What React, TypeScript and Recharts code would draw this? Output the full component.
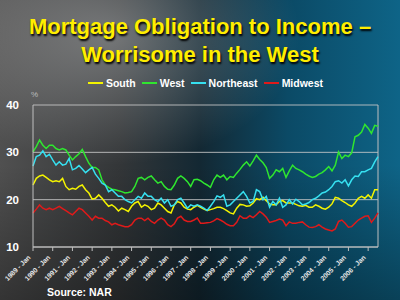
import { CartesianGrid, Legend, Line, LineChart, ReferenceLine, XAxis, YAxis } from "recharts";

// Bi-monthly readings, Jan 1989 .. Jul 2006 (percent of income)
const YEARS = [
  1989, 1990, 1991, 1992, 1993, 1994, 1995, 1996, 1997, 1998, 1999, 2000, 2001,
  2002, 2003, 2004, 2005, 2006,
];
const MONTHS = ["Jan", "Mar", "May", "Jul", "Sep", "Nov"];

const SOUTH = [
  23.1, 24.5, 25.0, 25.2, 24.7, 24.2, 23.8, 24.0, 23.8, 24.5,
  22.8, 22.1, 22.4, 22.2, 22.8, 23.1, 22.1, 21.4, 20.1, 20.3,
  21.0, 20.3, 19.4, 18.6, 18.9, 18.4, 17.6, 18.2, 17.9, 17.5,
  18.6, 19.3, 19.6, 18.4, 18.9, 18.6, 17.9, 18.2, 19.3, 18.9,
  18.2, 17.5, 17.2, 18.9, 19.6, 19.3, 18.4, 18.0, 17.9, 18.4,
  18.8, 18.4, 18.0, 17.7, 17.9, 18.1, 18.4, 18.4, 18.1, 17.7,
  17.2, 17.0, 18.2, 19.0, 18.9, 18.6, 18.7, 19.3, 20.2, 20.0,
  20.5, 19.8, 19.1, 18.9, 18.9, 19.6, 19.8, 19.3, 19.3, 19.3,
  19.0, 18.7, 18.6, 18.8, 18.4, 18.4, 18.9, 18.6, 18.2, 18.0,
  18.4, 19.1, 20.5, 20.3, 19.8, 19.4, 18.9, 18.6, 19.3, 20.3,
  20.7, 20.3, 21.0, 20.3, 22.1, 22.1,
];

const WEST = [
  30.1, 31.2, 32.6, 31.5, 30.8, 31.5, 31.5, 30.8, 30.5, 30.8,
  30.5, 29.4, 28.4, 29.1, 29.7, 30.6, 29.1, 27.7, 26.8, 26.8,
  26.3, 24.2, 23.1, 22.6, 22.2, 22.1, 21.9, 21.7, 21.4, 21.5,
  21.7, 22.8, 24.5, 24.7, 24.2, 24.7, 25.0, 24.2, 23.5, 23.8,
  22.8, 22.2, 22.1, 23.1, 24.5, 25.0, 24.5, 23.8, 22.8, 24.2,
  24.3, 24.0, 23.5, 23.1, 22.6, 24.2, 25.2, 24.7, 25.2, 24.2,
  24.9, 24.7, 25.6, 26.4, 27.3, 28.0, 27.1, 28.2, 29.4, 28.5,
  27.8, 26.8, 24.5, 25.2, 26.3, 25.9, 26.6, 24.7, 26.1, 27.3,
  26.6, 26.3, 25.9, 25.4, 25.0, 24.7, 24.9, 25.4, 25.7, 26.3,
  27.0, 26.1, 27.3, 30.1, 28.7, 29.4, 29.1, 29.9, 33.3, 33.6,
  34.3, 35.9, 35.1, 34.0, 35.7, 35.5,
];

const NORTHEAST = [
  27.1, 29.1, 29.4, 30.3, 29.1, 29.6, 28.4, 27.3, 28.0, 27.3,
  27.5, 28.7, 26.3, 26.6, 27.2, 26.5, 25.7, 26.3, 26.8, 25.4,
  24.5, 23.5, 23.1, 21.7, 22.1, 21.4, 20.7, 20.7, 20.0, 19.6,
  19.3, 20.0, 20.7, 20.3, 21.4, 20.7, 20.7, 20.0, 19.6, 20.3,
  19.3, 20.0, 18.6, 18.9, 20.0, 20.3, 19.3, 18.2, 18.9, 18.6,
  18.9, 18.6, 18.2, 17.7, 18.6, 19.6, 20.8, 20.5, 21.0, 18.6,
  18.9, 19.6, 20.3, 21.0, 21.7, 20.7, 19.3, 19.6, 22.1, 21.7,
  20.0, 20.7, 18.4, 19.6, 18.9, 20.3, 18.4, 18.9, 20.0, 19.1,
  20.1, 19.6, 18.9, 19.1, 19.4, 20.0, 20.3, 20.8, 21.4, 21.6,
  22.1, 22.8, 23.8, 24.0, 23.5, 24.2, 22.9, 24.2, 25.0, 24.9,
  25.9, 25.9, 26.3, 26.6, 28.0, 29.1,
];

const MIDWEST = [
  17.2, 18.0, 18.9, 18.2, 17.9, 18.2, 17.9, 18.2, 18.6, 18.1,
  17.7, 17.2, 16.8, 17.5, 18.2, 17.9, 17.2, 16.5, 15.7, 16.5,
  16.1, 16.1, 15.6, 15.3, 14.7, 15.0, 14.7, 14.5, 14.3, 14.3,
  14.7, 15.7, 16.1, 16.1, 15.6, 16.1, 15.4, 15.0, 15.7, 16.1,
  15.7, 14.7, 14.3, 14.9, 16.1, 16.5, 15.7, 15.4, 15.4, 15.7,
  16.1, 15.0, 15.0, 15.1, 15.2, 15.5, 16.0, 15.7, 15.3, 14.8,
  14.5, 14.5, 15.2, 16.6, 16.1, 16.1, 16.6, 16.2, 16.8, 17.5,
  17.0, 16.3, 15.2, 15.4, 15.6, 15.9, 15.7, 14.5, 15.3, 15.0,
  15.0, 15.2, 15.3, 14.7, 14.2, 14.1, 14.3, 14.7, 14.2, 13.8,
  13.6, 13.4, 13.8, 15.4, 15.7, 15.0, 14.2, 14.3, 15.0, 15.7,
  16.1, 16.5, 16.6, 15.2, 16.1, 17.2,
];

const Y_TICKS = [10, 20, 30, 40];

const SERIES = [
  { key: "South", values: SOUTH, color: "#f4f400" },
  { key: "West", values: WEST, color: "#2fe62f" },
  { key: "Northeast", values: NORTHEAST, color: "#36e0f0" },
  { key: "Midwest", values: MIDWEST, color: "#e01a1a" },
];

const FONT = '"Liberation Sans", Arial, sans-serif';

const labels = YEARS.flatMap((y) => MONTHS.map((m) => `${y} - ${m}`)).slice(0, SOUTH.length);
const data = labels.map((month, i) => {
  const row: Record<string, string | number> = { month };
  SERIES.forEach((s) => (row[s.key] = s.values[i]));
  return row;
});

function MonthTick({ x, y, payload }: any) {
  const ax = x - 2;
  const ay = y + 5;
  return (
    <text
      x={ax}
      y={ay}
      transform={`rotate(-45 ${ax} ${ay})`}
      textAnchor="end"
      fill="#e6e6e6"
      fontSize={6.8}
      fontWeight="bold"
      fontFamily={FONT}
    >
      {payload.value}
    </text>
  );
}

function ValueTick({ x, y, payload }: any) {
  return (
    <text
      x={x}
      y={y + 4}
      textAnchor="end"
      fill="#ffffff"
      fontSize={11.5}
      fontWeight="bold"
      fontFamily={FONT}
    >
      {payload.value}
    </text>
  );
}

// keep the legend in series order (recharts sorts its payload by name)
function LegendRow() {
  return (
    <div
      style={{
        display: "flex",
        justifyContent: "center",
        gap: 6,
        paddingLeft: 11,
        fontFamily: FONT,
        fontWeight: "bold",
        fontSize: 10.5,
        color: "#ffffff",
        lineHeight: "12px",
      }}
    >
      {SERIES.map((s) => (
        <span key={s.key} style={{ display: "flex", alignItems: "center", gap: 3 }}>
          <span style={{ display: "inline-block", width: 15, height: 2, background: s.color }} />
          {s.key}
        </span>
      ))}
    </div>
  );
}

export default function App() {
  return (
    <div
      style={{
        position: "absolute",
        left: 0,
        top: 0,
        width: 400,
        height: 300,
        overflow: "hidden",
        background:
          "radial-gradient(ellipse 190px 130px at 110px 35px, rgba(255,255,255,0.32), rgba(255,255,255,0) 100%)," +
          "linear-gradient(180deg, rgba(0,0,0,0) 55%, rgba(0,0,0,0.35) 100%)," +
          "linear-gradient(90deg, #505050 0%, #333638 30%, #132833 50%, #0b4a66 72%, #0e6487 100%)",
      }}
    >
      <div
        style={{
          position: "absolute",
          top: 13,
          left: 0,
          width: 400,
          textAlign: "center",
          fontFamily: FONT,
          fontWeight: "bold",
          fontSize: 22,
          lineHeight: "28px",
          color: "#ffee00",
          textShadow: "1px 2px 2px #000",
        }}
      >
        Mortgage Obligation to Income –
        <br />
        Worrisome in the West
      </div>
      <div
        style={{
          position: "absolute",
          left: 31,
          top: 90,
          fontFamily: FONT,
          fontSize: 8,
          color: "#bdbdbd",
        }}
      >
        %
      </div>
      <div style={{ position: "absolute", left: 0, top: 0 }}>
        <LineChart
          width={400}
          height={300}
          data={data}
          margin={{ top: 105, right: 22, bottom: 8, left: 8 }}
        >
          <CartesianGrid vertical={false} stroke="#c9c9c9" strokeOpacity={0.85} />
          <XAxis
            dataKey="month"
            interval={5}
            height={45}
            tickSize={4}
            tick={<MonthTick />}
            tickLine={{ stroke: "#bfbfbf" }}
            axisLine={{ stroke: "#bfbfbf" }}
          />
          <YAxis
            domain={[10, 40]}
            ticks={Y_TICKS}
            width={25}
            tickLine={false}
            tickMargin={8}
            tick={<ValueTick />}
            axisLine={{ stroke: "#bfbfbf" }}
          />
          <ReferenceLine x={labels[labels.length - 1]} stroke="#bfbfbf" />
          <Legend
            verticalAlign="middle"
            align="center"
            layout="horizontal"
            wrapperStyle={{ top: 77, left: 0, width: 400 }}
            content={<LegendRow />}
          />
          {SERIES.map((s) => (
            <Line
              key={s.key}
              dataKey={s.key}
              stroke={s.color}
              strokeWidth={1.5}
              dot={false}
              isAnimationActive={false}
            />
          ))}
        </LineChart>
      </div>
      <div
        style={{
          position: "absolute",
          left: 47,
          top: 286,
          fontFamily: FONT,
          fontWeight: "bold",
          fontSize: 10.5,
          color: "#ffffff",
        }}
      >
        Source: NAR
      </div>
    </div>
  );
}
